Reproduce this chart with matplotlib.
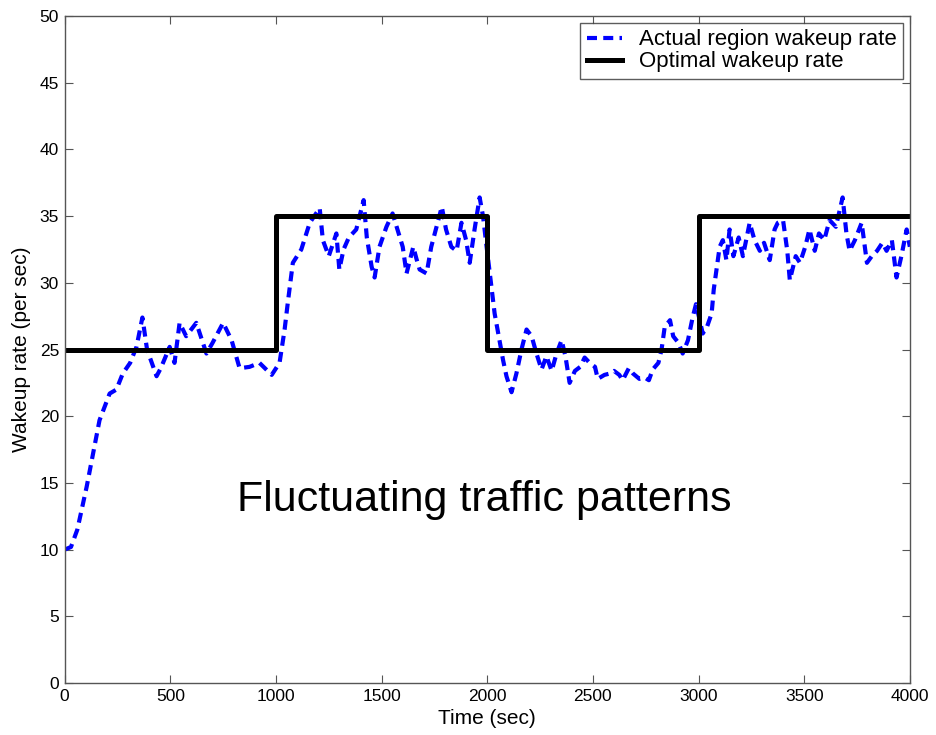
import matplotlib
matplotlib.use("Agg")
import matplotlib.pyplot as plt

plt.rcParams['font.family'] = ['Liberation Sans', 'DejaVu Sans']

# Actual region wakeup rate
time_actual = [0, 30, 60, 104, 165, 213, 245, 275, 310, 340, 368, 390, 435, 455, 497, 520,
               544, 575, 623, 671, 700, 750, 790, 828, 875, 922, 980, 1017, 1041, 1056,
               1080, 1120, 1160, 1207, 1222, 1250, 1286, 1300, 1320, 1345, 1380, 1415,
               1430, 1453, 1467, 1490, 1523, 1552, 1575, 1600, 1618, 1650, 1665, 1680,
               1713, 1735, 1760, 1785, 1805, 1830, 1855, 1878, 1900, 1917, 1940, 1964,
               1980, 1997, 2020, 2035, 2058, 2075, 2091, 2115, 2138, 2162, 2186, 2210,
               2233, 2257, 2280, 2305, 2328, 2352, 2370, 2390, 2415, 2440, 2461, 2485,
               2510, 2523, 2555, 2580, 2600, 2625, 2641, 2670, 2690, 2720, 2745, 2765,
               2783, 2810, 2825, 2840, 2865, 2880, 2905, 2925, 2950, 2972, 2988, 3020,
               3040, 3062, 3072, 3085, 3100, 3115, 3132, 3147, 3165, 3190, 3210, 3242,
               3265, 3290, 3310, 3337, 3360, 3375, 3400, 3420, 3432, 3460, 3480, 3505,
               3525, 3550, 3570, 3595, 3620, 3650, 3682, 3700, 3715, 3740, 3772, 3797,
               3820, 3845, 3870, 3890, 3915, 3937, 3960, 3985, 4000]
rate_actual = [10.0, 10.2, 11.5, 14.7, 19.7, 21.7, 22.0, 23.2, 24.0, 25.2, 27.4, 25.0, 23.0,
               23.6, 25.2, 24.0, 27.0, 26.0, 27.0, 24.7, 25.5, 27.0, 25.7, 23.6, 23.7,
               24.0, 23.1, 24.0, 26.5, 28.5, 31.5, 32.5, 34.5, 35.6, 33.2, 32.0, 33.7,
               31.0, 32.5, 33.4, 34.0, 36.2, 33.4, 31.2, 30.4, 32.7, 34.2, 35.2, 34.0,
               32.7, 30.7, 32.7, 31.8, 31.0, 30.7, 32.7, 34.2, 35.7, 34.0, 32.7, 32.4,
               34.5, 33.2, 31.5, 34.0, 36.4, 35.0, 32.7, 29.7, 27.7, 25.7, 24.2, 23.0,
               21.8, 23.2, 25.0, 26.5, 26.0, 24.7, 23.5, 24.5, 23.4, 24.7, 25.7, 24.5,
               22.5, 23.4, 23.7, 24.4, 24.0, 23.7, 22.8, 23.1, 23.2, 23.4, 23.1, 22.7,
               23.6, 23.2, 22.8, 22.9, 22.7, 23.5, 24.0, 25.0, 26.7, 27.2, 26.0, 25.5,
               24.7, 25.7, 27.4, 28.4, 26.2, 26.7, 27.7, 29.5, 31.0, 32.7, 33.2, 31.7,
               34.0, 32.0, 33.4, 32.0, 34.5, 33.2, 32.4, 33.0, 31.7, 34.0, 34.5, 34.7,
               32.4, 30.2, 32.0, 31.5, 32.7, 34.0, 32.4, 33.7, 33.2, 34.7, 34.2, 36.4,
               33.7, 32.4, 33.2, 34.5, 31.5, 32.0, 32.4, 33.0, 32.4, 33.2, 30.4, 32.0,
               34.0, 32.7]

# Optimal wakeup rate (step function)
time_optimal = [0, 1000, 1000, 2000, 2000, 3000, 3000, 4000]
rate_optimal = [25, 25, 35, 35, 25, 25, 35, 35]

xticks = [0, 500, 1000, 1500, 2000, 2500, 3000, 3500, 4000]
yticks = [0, 5, 10, 15, 20, 25, 30, 35, 40, 45, 50]

fig = plt.figure(figsize=(9.37, 7.35), dpi=100)
ax = fig.add_axes([0.069, 0.0707, 0.902, 0.9075])

ax.plot(time_actual, rate_actual, color='#0000ff', linestyle=(0, (2.4, 1.5)), linewidth=3.0,
        label='Actual region wakeup rate')
ax.plot(time_optimal, rate_optimal, color='black', linewidth=3.6, label='Optimal wakeup rate')

ax.set_xlim(0, 4000)
ax.set_ylim(0, 50)
ax.set_xticks(xticks)
ax.set_yticks(yticks)
ax.tick_params(direction='in', top=True, right=True, labelsize=12.5, length=6,
               color='#555555', pad=4)
for s in ax.spines.values():
    s.set_color('#555555')
    s.set_linewidth(1.0)

ax.set_xlabel('Time (sec)', fontsize=15, labelpad=4)
ax.set_ylabel('Wakeup rate (per sec)', fontsize=15, labelpad=6)

ax.text(815, 13.7, 'Fluctuating traffic patterns', fontsize=31, va='center', ha='left')

leg = ax.legend(loc='upper right', fontsize=16, frameon=True, fancybox=False,
                borderaxespad=0.3, handlelength=1.6, handletextpad=0.75,
                borderpad=0.3, labelspacing=0.05)
leg.get_frame().set_edgecolor('#333333')
leg.get_frame().set_linewidth(1.0)

fig.savefig('out.png', dpi=100)
